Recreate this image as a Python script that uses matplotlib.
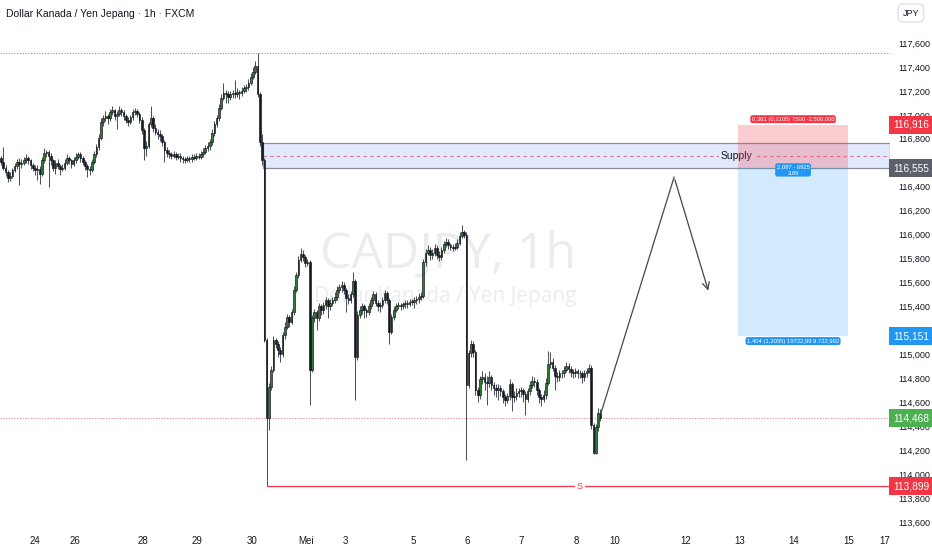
import matplotlib
matplotlib.use("Agg")
import matplotlib.pyplot as plt
from matplotlib.patches import Rectangle
from matplotlib import transforms
import numpy as np

plt.rcParams['font.family'] = ['Liberation Sans', 'DejaVu Sans']

# ---- data (CADJPY 1h) ----
first_open = 116.64
closes = [
    116.61, 116.56, 116.52, 116.47, 116.49, 116.54, 116.57, 116.61, 116.59, 116.60,
    116.62, 116.64, 116.62, 116.58, 116.56, 116.54, 116.55, 116.51, 116.62, 116.68,
    116.69, 116.66, 116.62, 116.56, 116.60, 116.57, 116.55, 116.56, 116.60, 116.64,
    116.62, 116.59, 116.62, 116.65, 116.67, 116.64, 116.61, 116.57, 116.55, 116.54,
    116.61, 116.67, 116.73, 116.81, 116.94, 116.97, 116.99, 116.97, 117.02, 117.04,
    116.99, 117.01, 117.04, 117.02, 116.99, 116.96, 116.94, 116.98, 117.02, 117.03,
    117.01, 116.96, 116.87, 116.72, 116.74, 116.92, 116.97, 116.89, 116.86, 116.84,
    116.82, 116.77, 116.71, 116.68, 116.67, 116.66, 116.67, 116.65, 116.66, 116.64,
    116.63, 116.62, 116.64, 116.63, 116.65, 116.64, 116.66, 116.65, 116.67, 116.69,
    116.72, 116.74, 116.77, 116.85, 116.92, 116.97, 117.06, 117.14, 117.18, 117.17,
    117.15, 117.17, 117.18, 117.17, 117.19, 117.18, 117.20, 117.22, 117.23, 117.27,
    117.32, 117.36, 117.41, 117.17, 116.77, 116.62, 115.12, 114.47, 114.73, 114.87,
    115.12, 115.09, 115.04, 115.00, 115.16, 115.23, 115.31, 115.27, 115.35, 115.54,
    115.66, 115.79, 115.84, 115.81, 115.76, 115.77, 114.87, 115.30, 115.35, 115.30,
    115.40, 115.37, 115.41, 115.45, 115.40, 115.43, 115.45, 115.48, 115.54, 115.56,
    115.58, 115.54, 115.47, 115.45, 115.50, 115.61, 114.98, 115.33, 115.37, 115.40,
    115.37, 115.35, 115.40, 115.45, 115.50, 115.43, 115.40, 115.41, 115.45, 115.51,
    115.45, 115.19, 115.31, 115.37, 115.40, 115.41, 115.40, 115.42, 115.43, 115.42,
    115.44, 115.44, 115.45, 115.46, 115.48, 115.49, 115.77, 115.85, 115.87, 115.83,
    115.85, 115.89, 115.83, 115.81, 115.87, 115.92, 115.94, 115.91, 115.90, 115.89,
    115.90, 115.93, 115.99, 116.02, 116.00, 114.74, 115.01, 115.09, 115.02, 114.70,
    114.66, 114.79, 114.81, 114.77, 114.76, 114.81, 114.74, 114.72, 114.70, 114.72,
    114.69, 114.64, 114.62, 114.65, 114.75, 114.64, 114.65, 114.68, 114.69, 114.70,
    114.67, 114.63, 114.69, 114.74, 114.78, 114.77, 114.70, 114.64, 114.63, 114.66,
    114.76, 114.92, 114.94, 114.89, 114.82, 114.81, 114.84, 114.84, 114.87, 114.90,
    114.88, 114.85, 114.84, 114.86, 114.84, 114.84, 114.81, 114.84, 114.86, 114.89,
    114.41, 114.18, 114.39, 114.51, 114.468,
]
highs = [
    116.66, 116.73, 116.58, 116.54, 116.52, 116.56, 116.60, 116.63, 116.64, 116.63,
    116.65, 116.67, 116.66, 116.63, 116.60, 116.58, 116.58, 116.57, 116.65, 116.72,
    116.71, 116.71, 116.68, 116.63, 116.62, 116.63, 116.59, 116.59, 116.63, 116.67,
    116.66, 116.63, 116.65, 116.68, 116.69, 116.69, 116.66, 116.62, 116.59, 116.57,
    116.63, 116.70, 116.76, 116.84, 116.97, 117.00, 117.03, 117.01, 117.05, 117.07,
    117.05, 117.03, 117.07, 117.06, 117.04, 117.01, 116.98, 117.00, 117.05, 117.06,
    117.05, 117.02, 116.98, 116.89, 116.78, 116.94, 117.07, 116.99, 116.92, 116.88,
    116.87, 116.84, 116.79, 116.73, 116.71, 116.69, 116.70, 116.69, 116.68, 116.68,
    116.66, 116.65, 116.66, 116.66, 116.67, 116.67, 116.68, 116.68, 116.70, 116.72,
    116.75, 116.77, 116.80, 116.88, 116.95, 117.00, 117.09, 117.17, 117.27, 117.21,
    117.20, 117.20, 117.21, 117.29, 117.22, 117.21, 117.23, 117.25, 117.26, 117.30,
    117.35, 117.40, 117.45, 117.52, 117.19, 116.84, 116.64, 115.14, 114.76, 114.90,
    115.15, 115.14, 115.11, 115.06, 115.19, 115.27, 115.34, 115.33, 115.38, 115.57,
    115.69, 115.82, 115.89, 115.87, 115.83, 115.80, 115.79, 115.33, 115.38, 115.37,
    115.43, 115.42, 115.44, 115.48, 115.47, 115.46, 115.48, 115.52, 115.57, 115.59,
    115.61, 115.60, 115.55, 115.50, 115.53, 115.69, 115.63, 115.36, 115.40, 115.43,
    115.42, 115.39, 115.43, 115.48, 115.53, 115.52, 115.45, 115.44, 115.48, 115.54,
    115.53, 115.47, 115.34, 115.40, 115.43, 115.44, 115.43, 115.44, 115.45, 115.45,
    115.46, 115.46, 115.48, 115.49, 115.51, 115.52, 115.80, 115.88, 115.91, 115.90,
    115.88, 115.92, 115.91, 115.86, 115.90, 115.95, 115.97, 115.96, 115.93, 115.92,
    115.93, 115.96, 116.02, 116.08, 116.04, 116.02, 115.04, 115.12, 115.11, 115.04,
    114.73, 114.82, 114.86, 114.84, 114.82, 114.86, 114.83, 114.77, 114.75, 114.75,
    114.74, 114.71, 114.67, 114.68, 114.79, 114.77, 114.69, 114.72, 114.72, 114.73,
    114.72, 114.69, 114.72, 114.78, 114.82, 114.81, 114.79, 114.72, 114.67, 114.70,
    114.80, 115.03, 115.02, 114.97, 114.91, 114.85, 114.87, 114.87, 114.90, 114.94,
    114.93, 114.90, 114.88, 114.89, 114.88, 114.87, 114.86, 114.87, 114.89, 114.92,
    114.91, 114.43, 114.42, 114.55, 114.54,
]
lows = [
    116.58, 116.54, 116.49, 116.44, 116.45, 116.47, 116.52, 116.55, 116.41, 116.56,
    116.58, 116.60, 116.59, 116.55, 116.53, 116.50, 116.46, 116.42, 116.49, 116.60,
    116.65, 116.40, 116.58, 116.53, 116.51, 116.55, 116.50, 116.53, 116.54, 116.58,
    116.59, 116.56, 116.57, 116.60, 116.63, 116.61, 116.58, 116.54, 116.48, 116.50,
    116.52, 116.59, 116.65, 116.71, 116.79, 116.91, 116.95, 116.92, 116.95, 117.00,
    116.96, 116.88, 116.99, 116.99, 116.96, 116.93, 116.91, 116.92, 116.96, 117.00,
    116.98, 116.93, 116.84, 116.62, 116.66, 116.72, 116.90, 116.86, 116.83, 116.80,
    116.78, 116.74, 116.61, 116.65, 116.64, 116.63, 116.64, 116.62, 116.63, 116.61,
    116.60, 116.60, 116.61, 116.61, 116.61, 116.62, 116.62, 116.63, 116.63, 116.65,
    116.67, 116.70, 116.71, 116.75, 116.82, 116.90, 116.95, 117.04, 117.12, 117.10,
    117.10, 117.12, 117.14, 117.14, 117.15, 117.13, 117.16, 117.18, 117.19, 117.21,
    117.25, 117.30, 117.34, 117.15, 116.74, 116.58, 115.10, 113.899, 114.37, 114.70,
    114.85, 115.05, 114.98, 114.94, 114.98, 115.13, 115.21, 115.23, 115.25, 115.33,
    115.52, 115.64, 115.77, 115.78, 115.73, 115.74, 114.58, 114.85, 115.27, 115.20,
    115.28, 115.33, 115.34, 115.38, 115.30, 115.37, 115.40, 115.43, 115.45, 115.51,
    115.52, 115.50, 115.35, 115.42, 115.43, 115.48, 114.62, 114.95, 115.30, 115.34,
    115.30, 115.31, 115.33, 115.38, 115.42, 115.40, 115.36, 115.35, 115.39, 115.43,
    115.42, 115.09, 115.17, 115.29, 115.35, 115.38, 115.37, 115.38, 115.39, 115.39,
    115.40, 115.41, 115.39, 115.42, 115.43, 115.45, 115.47, 115.74, 115.83, 115.79,
    115.80, 115.82, 115.80, 115.78, 115.79, 115.85, 115.90, 115.88, 115.87, 115.86,
    115.87, 115.88, 115.91, 115.97, 115.97, 114.12, 114.72, 114.98, 114.98, 114.66,
    114.60, 114.63, 114.75, 114.70, 114.58, 114.73, 114.70, 114.66, 114.64, 114.62,
    114.65, 114.59, 114.57, 114.59, 114.62, 114.53, 114.60, 114.62, 114.64, 114.64,
    114.60, 114.49, 114.60, 114.66, 114.72, 114.73, 114.66, 114.59, 114.57, 114.60,
    114.63, 114.74, 114.89, 114.86, 114.70, 114.77, 114.78, 114.80, 114.81, 114.85,
    114.84, 114.81, 114.80, 114.81, 114.80, 114.80, 114.76, 114.78, 114.81, 114.84,
    114.38, 114.17, 114.17, 114.36, 114.44,
]

# date axis (bar index of each label)
date_labels = ["24", "26", "28", "29", "30", "Mei", "3", "5", "6", "7", "8",
               "10", "12", "13", "14", "15", "17"]
date_bars = [14.8, 32.4, 62.6, 86.3, 110.6, 134.4, 151.5, 181.5, 205.3, 229.1,
             253.3, 270.5, 301.8, 325.6, 349.3, 373.6, 389.4]
price_ticks = [113.6, 113.8, 114.0, 114.2, 114.4, 114.6, 114.8, 115.0, 115.2,
               115.4, 115.6, 115.8, 116.0, 116.2, 116.4, 116.6, 116.8, 117.0,
               117.2, 117.4, 117.6]

# drawings
supply_start = 115.4
supply_top, supply_bottom = 116.765, 116.555
sell_start, sell_end = 324.7, 373.1
entry, stop, target = 116.555, 116.916, 115.151
sweep_level, sweep_start, sweep_label_bar = 113.899, 117, 255
last_price = 114.468
path_bars = [264.3, 296.5, 311.9]
path_prices = [114.51, 116.48, 115.51]

# ---- figure ----
W, H = 932, 550
fig = plt.figure(figsize=(W / 100, H / 100), dpi=100)
ax = fig.add_axes([0, 20 / H, 890 / W, 530 / H])
ax.set_xlim(-0.44, 391.6)
ax.set_ylim(113.533, 117.959)
for s in ax.spines.values():
    s.set_visible(False)

x = np.arange(len(closes))
c = np.array(closes)
o = np.array([first_open] + closes[:-1])
hi = np.array(highs)
lo = np.array(lows)
up = c >= o
bottom = np.minimum(o, c)
height = np.maximum(np.abs(c - o), 0.007)

ax.vlines(x, lo, hi, color='#50535e', lw=0.75, zorder=3)
ax.bar(x[up], height[up], bottom=bottom[up], width=0.72, color='#2e7d32',
       edgecolor='#111111', linewidth=0.45, zorder=4)
ax.bar(x[~up], height[~up], bottom=bottom[~up], width=0.72, color='#131722',
       edgecolor='#131722', linewidth=0.45, zorder=4)

xmax = ax.get_xlim()[1]

# high dotted line
ax.axhline(max(highs), color='#9598a1', lw=0.8, ls=(0, (1, 1.5)), zorder=2)

# supply zone
ax.add_patch(Rectangle((supply_start, supply_bottom), xmax - supply_start,
                       supply_top - supply_bottom, facecolor='#e3e9fc',
                       edgecolor='#8a8d99', lw=0.9, zorder=1))
mid = (supply_top + supply_bottom) / 2
ax.hlines(mid, supply_start, xmax, color='#d27a93', lw=0.8, ls=(0, (3, 3)), zorder=1.5)
ax.text(323.8, mid, "Supply", fontsize=7.5, color='#131722', ha='center', va='center',
        zorder=2, bbox=dict(boxstyle='square,pad=0.15', fc='#e3e9fc', ec='none'))

# short position tool
ax.add_patch(Rectangle((sell_start, entry), sell_end - sell_start, stop - entry,
                       facecolor='#f23645', alpha=0.25, lw=0, zorder=2))
ax.add_patch(Rectangle((sell_start, target), sell_end - sell_start, entry - target,
                       facecolor='#2196f3', alpha=0.2, lw=0, zorder=2))
cx = (sell_start + sell_end) / 2
ax.text(cx, stop + 0.048, "0,361 (0,3105) 7500 -2.500,000", fontsize=4.2, color='white',
        ha='center', va='center', zorder=6,
        bbox=dict(boxstyle='round,pad=0.25,rounding_size=0.4', fc='#f23645', ec='none'))
ax.text(cx, entry - 0.015, "2,087 - 6925\n3,89", fontsize=4.2, color='white',
        ha='center', va='center', zorder=6, linespacing=1.1,
        bbox=dict(boxstyle='round,pad=0.25,rounding_size=0.4', fc='#2196f3', ec='none'))
ax.text(cx, target - 0.04, "1,404 (1,2055) 19722,99 9.722,992", fontsize=4.2,
        color='white', ha='center', va='center', zorder=6,
        bbox=dict(boxstyle='round,pad=0.25,rounding_size=0.4', fc='#2196f3', ec='none'))

# sweep level
ax.hlines(sweep_level, sweep_start, xmax, color='#f23645', lw=0.9, zorder=2)
ax.text(sweep_label_bar, sweep_level, "S", fontsize=6.5, color='#f23645', ha='center',
        va='center', zorder=3, bbox=dict(boxstyle='square,pad=0.2', fc='white', ec='none'))

# last price line
ax.axhline(last_price, color='#e48a98', lw=0.8, ls=(0, (1, 1.5)), zorder=2)

# projected path
ax.plot(path_bars[:2], path_prices[:2], color='#434651', lw=0.9, zorder=5)
ax.annotate("", xy=(path_bars[2], path_prices[2]), xytext=(path_bars[1], path_prices[1]),
            arrowprops=dict(arrowstyle='->,head_length=0.5,head_width=0.25',
                            color='#434651', lw=0.9), zorder=5)

# watermark
ax.text(0.503, 0.52, "CADJPY, 1h", transform=ax.transAxes, fontsize=36,
        color='#ebecf0', ha='center', va='center', zorder=0.5,
        family=['Open Sans', 'DejaVu Sans'])
ax.text(0.50, 0.44, "Dollar Kanada / Yen Jepang", transform=ax.transAxes, fontsize=15,
        color='#ebecf0', ha='center', va='center', zorder=0.5,
        family=['Open Sans', 'DejaVu Sans'])

# title
ax.text(6 / 890, 1 - 14 / 530, "Dollar Kanada / Yen Jepang · 1h · FXCM",
        transform=ax.transAxes, fontsize=7.5, color='#131722', ha='left', va='center')

# axes ticks
ax.yaxis.tick_right()
ax.set_yticks(price_ticks)
ax.set_yticklabels([f"{v:.3f}".replace('.', ',') for v in price_ticks])
ax.tick_params(axis='y', length=0, pad=6, labelsize=6.5, labelcolor='#131722')
ax.set_xticks(date_bars)
ax.set_xticklabels(date_labels)
ax.tick_params(axis='x', length=0, pad=4, labelsize=7, labelcolor='#131722')

# price labels on the scale
trans = transforms.blended_transform_factory(ax.transAxes, ax.transData)
for val, col in [(stop, '#f23645'), (entry, '#5d606b'), (target, '#2196f3'),
                 (last_price, '#4caf50'), (sweep_level, '#f23645')]:
    ax.text(1.0235, val, f"{val:.3f}".replace('.', ','), transform=trans, fontsize=7.3,
            color='white', ha='center', va='center', zorder=8, clip_on=False,
            bbox=dict(boxstyle='square,pad=0.38', fc=col, ec='none'))

ax.text(1.0235, 1 - 13 / 530, "JPY", transform=ax.transAxes, fontsize=6.5,
        color='#131722', ha='center', va='center', clip_on=False,
        bbox=dict(boxstyle='round,pad=0.5,rounding_size=0.5', fc='white', ec='#e0e3eb'))

fig.savefig("out.png", dpi=100)
